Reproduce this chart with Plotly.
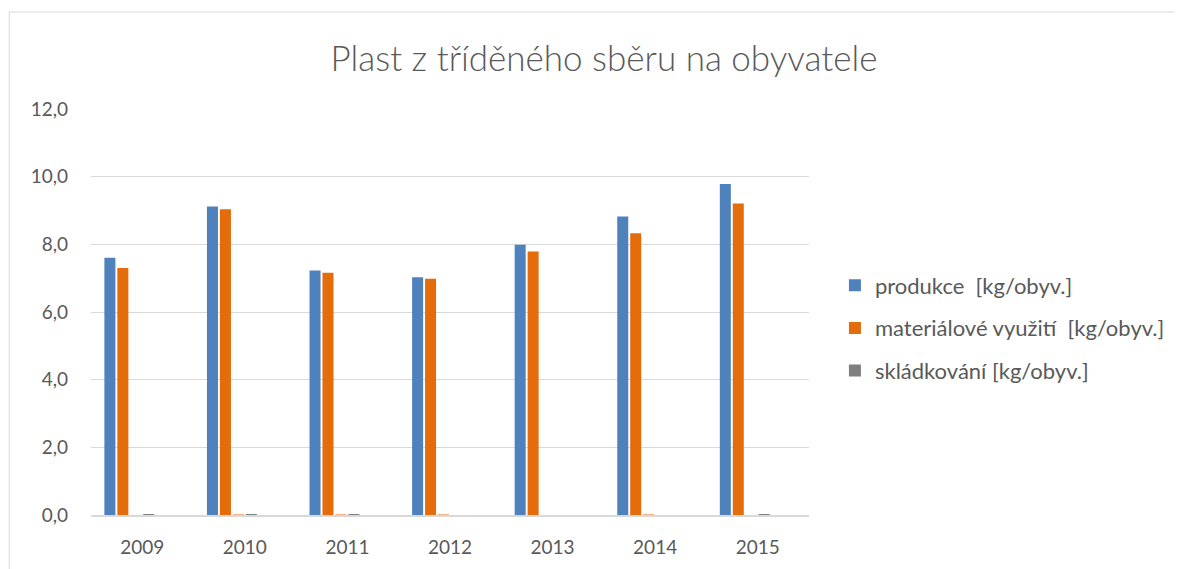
import plotly.graph_objects as go

years = ["2009", "2010", "2011", "2012", "2013", "2014", "2015"]
produkce = [7.60, 9.12, 7.23, 7.03, 7.99, 8.82, 9.78]
material = [7.30, 9.04, 7.16, 6.98, 7.79, 8.33, 9.21]
energ = [0.0, 0.02, 0.02, 0.02, 0.0, 0.02, 0.0]
skladka = [0.02, 0.02, 0.02, 0.0, 0.0, 0.0, 0.02]
empty = [None] * 7

names = ["produkce  [kg/obyv.]", "materiálové využití  [kg/obyv.]", "", "skládkování [kg/obyv.]", "", ""]
colors = ["#4F81BD", "#E46C0A", "#F4B183", "#7F7F7F", "#FFC000", "#5B9BD5"]
series = [produkce, material, energ, skladka, empty, empty]

fig = go.Figure()
for i, (nm, col, vals) in enumerate(zip(names, colors, series)):
    fig.add_trace(go.Bar(
        x=years, y=vals, name=nm, marker_color=col,
        marker_line_width=0, showlegend=(nm != ""),
        legendgroup=f"g{i}",
    ))

# page body has an 8px default margin, so the figure is offset by 8px
W, H = 1174, 561
L, T, PW, PH = 83, 101, 720, 406
font_fam = "Lato, 'Open Sans', sans-serif"
fig.update_layout(
    width=W, height=H,
    paper_bgcolor="white", plot_bgcolor="white",
    margin=dict(l=L, r=W - L - PW, t=T, b=H - T - PH),
    separators=", ",
    barmode="group", bargap=0.242, bargroupgap=0.15,
    title=dict(text="Plast z tříděného sběru na obyvatele",
               x=596 / W, xref="container", xanchor="center",
               y=1 - 51 / H, yref="container", yanchor="middle",
               font=dict(family=font_fam, size=35, color="#595959", weight=300)),
    font=dict(family=font_fam, color="#595959"),
    legend=dict(x=(829 - L) / PW, xanchor="left", y=(T + PH - 320) / PH, yanchor="middle",
                font=dict(size=22, color="#595959"),
                tracegroupgap=11, itemwidth=30),
    yaxis=dict(range=[0, 12], dtick=2, tickformat=".1f", showgrid=True,
               gridcolor="#D9D9D9", gridwidth=1, zeroline=False, showline=False,
               tickfont=dict(size=19, color="#595959"), ticklabelstandoff=22),
    xaxis=dict(showline=True, linecolor="#D9D9D9", linewidth=2, showgrid=False,
               tickfont=dict(size=19, color="#595959"), ticklabelstandoff=14),
    shapes=[dict(type="rect", xref="paper", yref="paper",
                 x0=(1 - L) / PW, x1=(1173 - L) / PW,
                 y0=(T + PH - 570) / PH, y1=(T + PH - 4) / PH,
                 line=dict(color="#D9D9D9", width=1), layer="below")],
)

fig.write_html("out.html")
